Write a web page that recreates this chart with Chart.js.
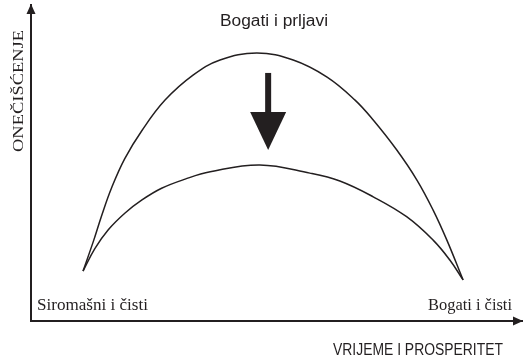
<!DOCTYPE html>
<html>
<head>
<meta charset="utf-8">
<script src="https://cdn.jsdelivr.net/npm/chart.js@4.4.1/dist/chart.umd.min.js"></script>
<style>
  html, body { margin: 0; padding: 0; background: #fff; }
  #wrap { width: 531px; height: 361px; position: relative; }
</style>
</head>
<body>
<div id="wrap"><canvas id="c"></canvas></div>
<script>
// curves (x: time & prosperity, y: pollution, both 0-100)
const upperX = [10.6, 12.7, 14.4, 16.4, 19.1, 22.6, 27.3, 33.0, 38.5, 46.0, 53.4, 60.3, 66.0, 69.7, 74.5, 78.6, 81.9, 84.7, 88.0];
const upperY = [15.8, 25.2, 33.4, 42.1, 51.4, 60.3, 69.9, 77.8, 82.6, 84.8, 82.6, 77.2, 69.9, 63.6, 54.1, 44.6, 35.1, 25.6, 13.0];
const lowerX = [10.6, 13.0, 15.7, 19.1, 22.6, 26.6, 31.4, 36.5, 46.6, 56.8, 62.9, 69.7, 76.5, 81.9, 85.3, 88.0];
const lowerY = [15.8, 22.9, 28.8, 34.1, 38.3, 42.0, 44.9, 47.2, 49.4, 46.8, 44.3, 39.3, 33.0, 25.6, 19.3, 13.0];

const xTitle = 'VRIJEME I PROSPERITET';
const yTitle = 'ONEČIŠĆENJE';
const topLabel = 'Bogati i prljavi';
const startLabel = 'Siromašni i čisti';
const endLabel = 'Bogati i čisti';

const INK = '#231f20';
const toPts = (xs, ys) => xs.map((x, i) => ({ x, y: ys[i] }));

// fit text to a width (the original uses a squeezed sans)
function fitText(ctx, txt, x, y, w, font){
  ctx.save();
  ctx.font = font;
  const k = w / ctx.measureText(txt).width;
  ctx.translate(x, y);
  ctx.scale(k, 1);
  ctx.textAlign = 'left';
  ctx.fillText(txt, 0, 0);
  ctx.restore();
}

const decor = {
  id: 'decor',
  afterDraw(chart){
    const { ctx, chartArea: a, scales: { x, y } } = chart;
    ctx.save();
    ctx.fillStyle = INK;

    // axis arrow heads
    ctx.beginPath();
    ctx.moveTo(a.left, a.top - 1);
    ctx.lineTo(a.left - 4.5, a.top + 9);
    ctx.lineTo(a.left + 4.5, a.top + 9);
    ctx.closePath(); ctx.fill();
    ctx.beginPath();
    ctx.moveTo(a.right + 1, a.bottom);
    ctx.lineTo(a.right - 9, a.bottom - 4.5);
    ctx.lineTo(a.right - 9, a.bottom + 4.5);
    ctx.closePath(); ctx.fill();

    // big down arrow between the curves
    const ax = x.getPixelForValue(48.3);
    const sTop = y.getPixelForValue(78.5);
    const base = y.getPixelForValue(66.1);
    const tip = y.getPixelForValue(54.1);
    ctx.fillRect(ax - 3, sTop, 6, base - sTop + 1);
    ctx.beginPath();
    ctx.moveTo(ax - 18, base);
    ctx.lineTo(ax + 18, base);
    ctx.lineTo(ax, tip);
    ctx.closePath(); ctx.fill();

    // texts
    ctx.textBaseline = 'alphabetic';
    fitText(ctx, startLabel, 37, 310, 111, '17px "Liberation Serif", serif');
    fitText(ctx, endLabel, 428, 310, 84, '17px "Liberation Serif", serif');
    fitText(ctx, topLabel, 220, 26, 108, '16px "Liberation Sans", Arial, sans-serif');
    fitText(ctx, xTitle, 333, 355, 170, '16px "Liberation Sans", Arial, sans-serif');

    ctx.save();
    ctx.translate(23, 152);
    ctx.rotate(-Math.PI / 2);
    fitText(ctx, yTitle, 0, 0, 122, '15px "Liberation Serif", serif');
    ctx.restore();

    ctx.restore();
  }
};

new Chart(document.getElementById('c'), {
  type: 'line',
  data: {
    datasets: [
      { label: 'prije', data: toPts(upperX, upperY), borderColor: INK, borderWidth: 1.5, pointRadius: 0, tension: 0.4, fill: false },
      { label: 'poslije', data: toPts(lowerX, lowerY), borderColor: INK, borderWidth: 1.5, pointRadius: 0, tension: 0.4, fill: false }
    ]
  },
  options: {
    responsive: true,
    maintainAspectRatio: false,
    animation: false,
    layout: { padding: { left: 31, right: 9, top: 5, bottom: 40 } },
    plugins: { legend: { display: false }, tooltip: { enabled: false }, title: { display: false } },
    scales: {
      x: {
        type: 'linear', min: 0, max: 100,
        grid: { display: false, drawTicks: false },
        ticks: { display: false },
        border: { display: true, color: INK, width: 2 },
        afterFit(s){ s.height = 0; }
      },
      y: {
        type: 'linear', min: 0, max: 100,
        grid: { display: false, drawTicks: false },
        ticks: { display: false },
        border: { display: true, color: INK, width: 2 },
        afterFit(s){ s.width = 0; }
      }
    }
  },
  plugins: [decor]
});
</script>
</body>
</html>
